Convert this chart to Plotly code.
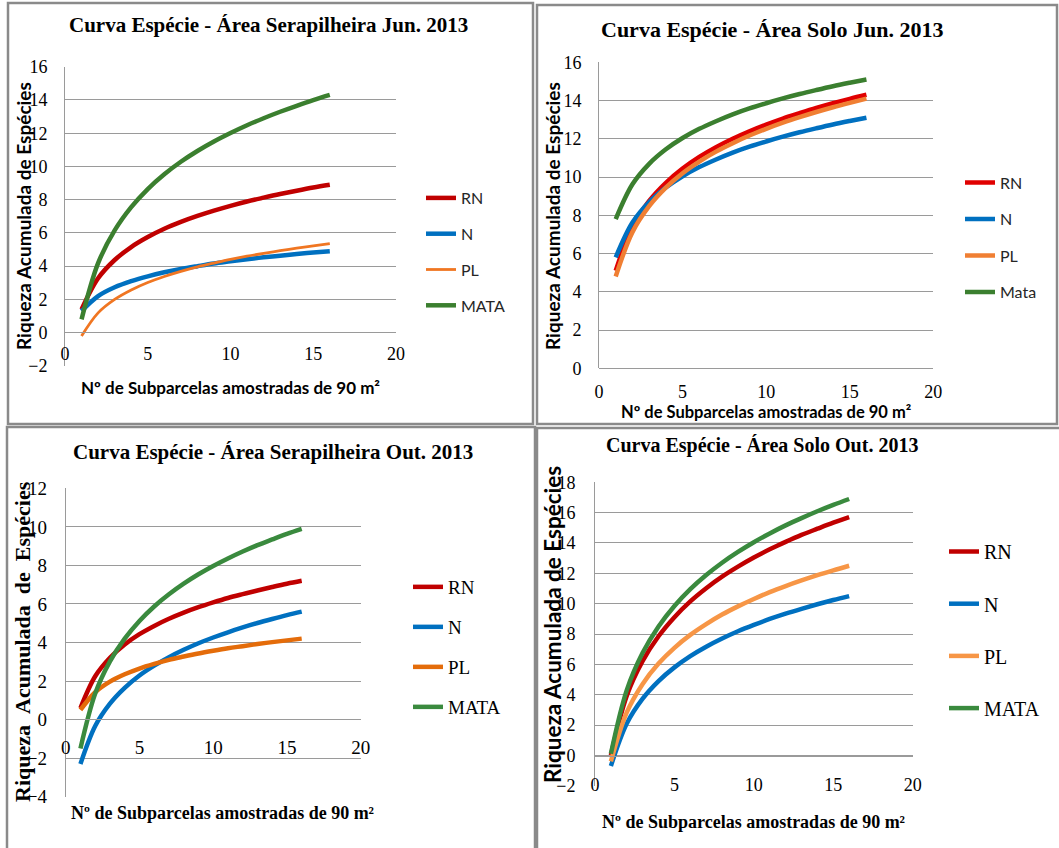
import plotly.graph_objects as go

W, H = 1059, 848

# ---------------- DATA ----------------
x_sub = [1, 2, 3, 4, 5, 6, 7, 8, 9, 10, 11, 12, 13, 14, 15, 16]
series_names_upper = ["RN", "N", "PL", "MATA"]
series_names_mata = ["RN", "N", "PL", "Mata"]
x_ticks = [0, 5, 10, 15, 20]

# Panel 1 - Serapilheira Jun. 2013
p1_rn = [1.4, 3.27, 4.37, 5.15, 5.75, 6.25, 6.66, 7.02, 7.34, 7.63, 7.89, 8.12, 8.34, 8.54, 8.73, 8.9]
p1_n = [1.3, 2.2, 2.73, 3.1, 3.39, 3.63, 3.83, 4.0, 4.16, 4.29, 4.42, 4.53, 4.63, 4.73, 4.82, 4.9]
p1_pl = [-0.2, 1.19, 2.0, 2.57, 3.02, 3.38, 3.69, 3.96, 4.19, 4.41, 4.6, 4.77, 4.93, 5.08, 5.22, 5.35]
p1_mata = [0.8, 4.18, 6.15, 7.55, 8.64, 9.53, 10.28, 10.93, 11.5, 12.01, 12.48, 12.9, 13.29, 13.65, 13.99, 14.3]

# Panel 2 - Solo Jun. 2013
p2_rn = [5.1, 7.4, 8.75, 9.7, 10.44, 11.05, 11.56, 12.0, 12.39, 12.74, 13.06, 13.34, 13.61, 13.86, 14.09, 14.3]
p2_n = [5.8, 7.62, 8.69, 9.45, 10.04, 10.52, 10.92, 11.28, 11.59, 11.86, 12.11, 12.34, 12.55, 12.75, 12.93, 13.1]
p2_pl = [4.8, 7.12, 8.48, 9.45, 10.2, 10.81, 11.33, 11.77, 12.17, 12.52, 12.84, 13.13, 13.4, 13.65, 13.88, 14.1]
p2_mata = [7.8, 9.62, 10.69, 11.45, 12.04, 12.52, 12.92, 13.28, 13.59, 13.86, 14.11, 14.34, 14.55, 14.75, 14.93, 15.1]

# Panel 3 - Serapilheira Out. 2013
p3_rn = [0.6, 2.25, 3.21, 3.9, 4.43, 4.86, 5.23, 5.55, 5.83, 6.08, 6.31, 6.51, 6.7, 6.88, 7.05, 7.2]
p3_n = [-2.3, -0.33, 0.83, 1.65, 2.29, 2.8, 3.24, 3.62, 3.96, 4.26, 4.53, 4.78, 5.01, 5.22, 5.42, 5.6]
p3_pl = [0.5, 1.42, 1.97, 2.35, 2.65, 2.89, 3.1, 3.27, 3.43, 3.57, 3.7, 3.81, 3.92, 4.02, 4.11, 4.2]
p3_mata = [-1.5, 1.35, 3.02, 4.2, 5.12, 5.87, 6.5, 7.05, 7.54, 7.97, 8.36, 8.72, 9.05, 9.35, 9.64, 9.9]

# Panel 4 - Solo Out. 2013
p4_rn = [0.0, 3.93, 6.22, 7.85, 9.11, 10.15, 11.02, 11.78, 12.44, 13.04, 13.58, 14.07, 14.53, 14.94, 15.34, 15.7]
p4_n = [-0.7, 2.1, 3.74, 4.9, 5.8, 6.54, 7.16, 7.7, 8.18, 8.6, 8.99, 9.34, 9.66, 9.96, 10.24, 10.5]
p4_pl = [-0.4, 2.83, 4.71, 6.05, 7.09, 7.94, 8.65, 9.28, 9.82, 10.31, 10.76, 11.16, 11.53, 11.88, 12.2, 12.5]
p4_mata = [0.1, 4.3, 6.76, 8.5, 9.85, 10.96, 11.89, 12.7, 13.41, 14.05, 14.63, 15.16, 15.64, 16.09, 16.51, 16.9]

titles = [
    "Curva Espécie - Área Serapilheira Jun. 2013",
    "Curva Espécie - Área Solo Jun. 2013",
    "Curva Espécie - Área Serapilheira Out. 2013",
    "Curva Espécie - Área Solo Out. 2013",
]
y_title = "Riqueza Acumulada de Espécies"
y_title_spaced = "Riqueza\u00a0\u00a0Acumulada\u00a0\u00a0de\u00a0\u00a0Espécies"
x_title_sans = "Nº de Subparcelas amostradas de 90 m²"
x_title_serif = "Nº de Subparcelas amostradas de 90 m²"

# ---------------- STYLE ----------------
SERIF = "Liberation Serif"
SANS = "Lato"
GRID = "#9a9a9a"
BORDER = "#8a8a8a"


def fx(p):
    return p / W


def fy(p):
    return 1 - p / H


panels = [
    dict(ids=("x", "y"), legend="legend", names=series_names_upper,
         data=[p1_rn, p1_n, p1_pl, p1_mata],
         colors=["#C00000", "#0070C0", "#F07622", "#3B7F2F"],
         widths=[4.5, 4.5, 2.8, 4.5],
         xdom=(65, 396), ydom=(66.7, 365.9), yrange=(-2, 16), zero_px=332.3,
         tickfont=18, tickstand=13, xstand=5,
         leg_x=421, leg_top=181, leg_font=dict(family=SANS, size=16, color="#262626"), leg_gap=12),
    dict(ids=("x2", "y2"), legend="legend2", names=series_names_mata,
         data=[p2_rn, p2_n, p2_pl, p2_mata],
         colors=["#E00000", "#0070C0", "#F07F33", "#3B7F2F"],
         widths=[4.5, 4.5, 4.5, 4.5],
         xdom=(599, 933.3), ydom=(62.3, 368.3), yrange=(0, 16), zero_px=368.3,
         tickfont=18, tickstand=13, xstand=7,
         leg_x=960, leg_top=165.5, leg_font=dict(family=SANS, size=16, color="#262626"), leg_gap=12.7),
    dict(ids=("x3", "y3"), legend="legend3", names=series_names_upper,
         data=[p3_rn, p3_n, p3_pl, p3_mata],
         colors=["#C00000", "#0070C0", "#E46C0A", "#3A8A3E"],
         widths=[4.5, 4.5, 4.5, 4.5],
         xdom=(65.7, 360.7), ydom=(488.3, 796.7), yrange=(-4, 12), zero_px=719.4,
         tickfont=19, tickstand=14, xstand=11,
         leg_x=408, leg_top=568, leg_font=dict(family=SERIF, size=19, color="#000000"), leg_gap=12.3),
    dict(ids=("x4", "y4"), legend="legend4", names=series_names_upper,
         data=[p4_rn, p4_n, p4_pl, p4_mata],
         colors=["#C00000", "#0070C0", "#F79646", "#3A8A3E"],
         widths=[4.5, 4.5, 4.5, 4.5],
         xdom=(595, 912.7), ydom=(482.3, 785.7), yrange=(-2, 18), zero_px=755.7,
         tickfont=18, tickstand=15, xstand=13,
         leg_x=944, leg_top=532, leg_font=dict(family=SERIF, size=20, color="#000000"), leg_gap=23.2),
]

fig = go.Figure()
layout_axes = {}
legends = {}

for pi, p in enumerate(panels):
    xid, yid = p["ids"]
    for si, (name, vals) in enumerate(zip(p["names"], p["data"])):
        fig.add_trace(go.Scatter(
            x=x_sub, y=vals, mode="lines", name=name,
            line=dict(color=p["colors"][si], width=p["widths"][si], shape="spline", smoothing=1.0),
            xaxis=xid, yaxis=yid, legend=p["legend"],
            legendgroup=f"g{pi}_{si}", showlegend=True,
        ))
    xkey = "xaxis" if xid == "x" else "xaxis" + xid[1:]
    ykey = "yaxis" if yid == "y" else "yaxis" + yid[1:]
    layout_axes[xkey] = dict(
        domain=[fx(p["xdom"][0]), fx(p["xdom"][1])], range=[0, 20],
        anchor="free", position=fy(p["zero_px"]),
        tickvals=x_ticks, showgrid=False, zeroline=False,
        showline=True, linecolor=GRID, linewidth=1,
        ticks="", ticklabelstandoff=p["xstand"],
        tickfont=dict(family=SERIF, size=p["tickfont"], color="#000"),
        fixedrange=True, automargin=False,
    )
    layout_axes[ykey] = dict(
        domain=[fy(p["ydom"][1]), fy(p["ydom"][0])], range=list(p["yrange"]),
        anchor=xid, dtick=2, tick0=0, showgrid=True, gridcolor=GRID, gridwidth=1,
        zeroline=False, showline=True, linecolor=GRID, linewidth=1,
        ticks="", ticklabelstandoff=p["tickstand"],
        tickfont=dict(family=SERIF, size=p["tickfont"], color="#000"),
        fixedrange=True, automargin=False,
    )
    legends[p["legend"]] = dict(
        x=fx(p["leg_x"]), y=fy(p["leg_top"]), xanchor="left", yanchor="top",
        bgcolor="rgba(0,0,0,0)", borderwidth=0, font=p["leg_font"],
        tracegroupgap=p["leg_gap"], traceorder="grouped",
        itemclick=False, itemdoubleclick=False,
    )

annotations = []
# Panel titles
title_specs = [(titles[0], 268, 25, 21), (titles[1], 772, 30, 22),
               (titles[2], 273, 452, 21), (titles[3], 762, 445, 20)]
for t, cx, cy, fs in title_specs:
    annotations.append(dict(text=f"<b>{t}</b>", x=fx(cx), y=fy(cy), xref="paper", yref="paper",
                            xanchor="center", yanchor="middle", showarrow=False,
                            font=dict(family=SERIF, size=fs, color="#000")))
# Y titles
ytitle_specs = [(y_title, 23, 216, SANS, 19), (y_title, 552, 216, SANS, 19),
                (y_title_spaced, 22, 642, SERIF, 22), (y_title, 552, 625, SANS, 22.5)]
for t, cx, cy, fam, fs in ytitle_specs:
    annotations.append(dict(text=f"<b>{t}</b>", x=fx(cx), y=fy(cy), xref="paper", yref="paper",
                            xanchor="center", yanchor="middle", showarrow=False, textangle=-90,
                            font=dict(family=fam, size=fs, color="#000")))
# X titles
xtitle_specs = [(x_title_sans, 230, 387, SANS, 17), (x_title_sans, 766, 412, SANS, 16.5),
                (x_title_serif, 222, 813, SERIF, 18), (x_title_serif, 753, 822, SERIF, 18)]
for t, cx, cy, fam, fs in xtitle_specs:
    annotations.append(dict(text=f"<b>{t}</b>", x=fx(cx), y=fy(cy), xref="paper", yref="paper",
                            xanchor="center", yanchor="middle", showarrow=False,
                            font=dict(family=fam, size=fs, color="#000")))

# Panel borders
box_px = [(8, 3, 533, 424), (537, 5, 1057, 424), (7, 427, 535, 850), (537, 428, 1061, 850)]
shapes = []
for x0, y0, x1, y1 in box_px:
    shapes.append(dict(type="rect", xref="paper", yref="paper",
                       x0=fx(x0), y0=fy(y1), x1=fx(x1), y1=fy(y0),
                       line=dict(color=BORDER, width=2.5), fillcolor="rgba(0,0,0,0)", layer="below"))

fig.update_layout(
    width=W, height=H, margin=dict(l=0, r=0, t=0, b=0, pad=0, autoexpand=False),
    paper_bgcolor="white", plot_bgcolor="white",
    annotations=annotations, shapes=shapes,
    **layout_axes, **legends,
)

fig.write_html("out.html", config={"displayModeBar": False})
